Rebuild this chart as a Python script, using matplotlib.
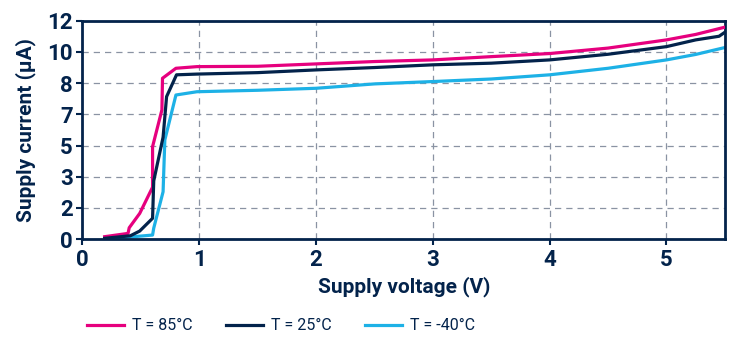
import matplotlib.pyplot as plt
import numpy as np

plt.rcParams['font.family'] = ['Roboto', 'DejaVu Sans']

navy = '#03234B'
pink = '#E6007E'
cyan = '#1DB1E6'

# supply voltage (V) and current (axis units, 0..12)
v85 = [0.19, 0.39, 0.40, 0.49, 0.60, 0.60, 0.68, 0.685, 0.80, 0.98, 1.5, 2.0, 2.5, 3.0, 3.5, 4.0, 4.5, 5.0, 5.25, 5.5]
i85 = [0.13, 0.31, 0.62, 1.41, 2.85, 5.08, 7.10, 8.84, 9.39, 9.48, 9.50, 9.63, 9.76, 9.85, 10.03, 10.20, 10.50, 10.95, 11.25, 11.65]

v25 = [0.19, 0.41, 0.49, 0.60, 0.61, 0.69, 0.72, 0.805, 0.98, 1.5, 2.0, 2.5, 3.0, 3.5, 4.0, 4.5, 5.0, 5.25, 5.45, 5.5]
i25 = [0.04, 0.18, 0.44, 1.14, 3.2, 5.6, 7.83, 9.03, 9.07, 9.15, 9.30, 9.43, 9.58, 9.67, 9.85, 10.16, 10.58, 10.95, 11.15, 11.37]

v40 = [0.30, 0.60, 0.61, 0.69, 0.705, 0.80, 0.98, 1.5, 2.0, 2.5, 3.0, 3.5, 4.0, 4.5, 5.0, 5.25, 5.5]
i40 = [0.05, 0.22, 0.6, 2.6, 5.45, 7.92, 8.10, 8.18, 8.29, 8.53, 8.66, 8.80, 9.03, 9.39, 9.85, 10.15, 10.53]

yticks = np.linspace(0, 12, 8)
ylabels = ['0', '2', '3', '5', '7', '8', '10', '12']
xticks = [0, 1, 2, 3, 4, 5]

fig = plt.figure(figsize=(7.3, 3.41), dpi=100)
ax = fig.add_axes([0.113, 0.299, 0.880, 0.640])

ax.plot(v85, i85, color=pink, lw=2.3, label='T = 85°C', zorder=3)
ax.plot(v25, i25, color=navy, lw=2.3, label='T = 25°C', zorder=4)
ax.plot(v40, i40, color=cyan, lw=2.3, label='T = -40°C', zorder=2)

ax.set_xlim(0, 5.5)
ax.set_ylim(0, 12)
ax.set_xticks(xticks)
ax.set_yticks(yticks)
ax.set_yticklabels(ylabels)
ax.grid(True, color='#8A93A3', linestyle=(0, (5, 4)), lw=0.9)

for s in ax.spines.values():
    s.set_color(navy)
    s.set_linewidth(2)

ax.tick_params(colors=navy, labelsize=16, width=1.5, length=4, pad=3)
for t in ax.get_xticklabels() + ax.get_yticklabels():
    t.set_fontweight('bold')
ax.set_xlabel('Supply voltage (V)', fontsize=15, color=navy, labelpad=4, fontweight='bold')
ax.set_ylabel('Supply current (µA)', fontsize=15, color=navy, fontweight='bold')
ax.yaxis.set_label_coords(-0.072, 0.5)

fig.legend(loc='lower left', bbox_to_anchor=(0.100, -0.02), ncol=3, frameon=False,
           fontsize=11.5, handlelength=2.3, handletextpad=0.5, columnspacing=2.1,
           labelcolor=navy)

fig.savefig('out.png', dpi=100)
